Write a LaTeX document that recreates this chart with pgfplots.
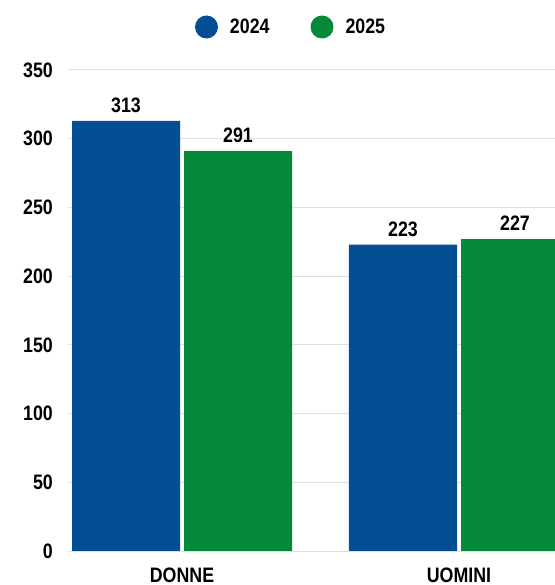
\documentclass[border=0pt]{standalone}
\usepackage{fontspec}
\setmainfont{Liberation Sans}[FakeStretch=0.85]
\usepackage{pgfplots}
\pgfplotsset{compat=1.18}
\definecolor{c24}{RGB}{4,79,148}
\definecolor{c25}{RGB}{4,136,58}
\definecolor{gridc}{RGB}{222,222,222}
\newcommand\lab{\fontsize{21}{24}\selectfont\bfseries}
\begin{document}
\begin{tikzpicture}
\useasboundingbox (0,0) rectangle (555bp,585bp);
\begin{axis}[
  at={(68bp,34bp)}, anchor=south west,
  scale only axis, width=487bp, height=481bp,
  ybar=4bp, bar width=108bp,
  xmin=-0.4116, xmax=1.3466,
  ymin=0, ymax=350,
  xtick={0,1}, xticklabels={DONNE,UOMINI},
  ytick={0,50,...,350},
  axis line style={draw=none},
  ymajorgrids, grid style={gridc, line width=1bp},
  major tick length=0pt,
  yticklabel style={font=\lab, anchor=east, inner sep=0pt, xshift=-15bp},
  xticklabel style={font=\lab, anchor=north, inner sep=0pt, yshift=-17bp},
  /pgf/number format/assume math mode=true,
  nodes near coords,
  every node near coord/.append style={font=\lab, black, anchor=south, inner sep=0pt, yshift=8bp},
  legend style={at={(0.458,1.0894)}, anchor=center, draw=none, font=\lab,
    legend columns=-1,
    /tikz/every odd column/.append style={column sep=10bp},
    /tikz/every even column/.append style={column sep=39bp}},
]
\addplot[fill=c24, draw=none, legend image code/.code={\fill[c24] (0bp,0bp) circle (11.5bp);}]
  coordinates {(0,313) (1,223)};
\addlegendentry{2024}
\addplot[fill=c25, draw=none, legend image code/.code={\fill[c25] (0bp,0bp) circle (11.5bp);}]
  coordinates {(0,291) (1,227)};
\addlegendentry{2025}
\end{axis}
\end{tikzpicture}
\end{document}
